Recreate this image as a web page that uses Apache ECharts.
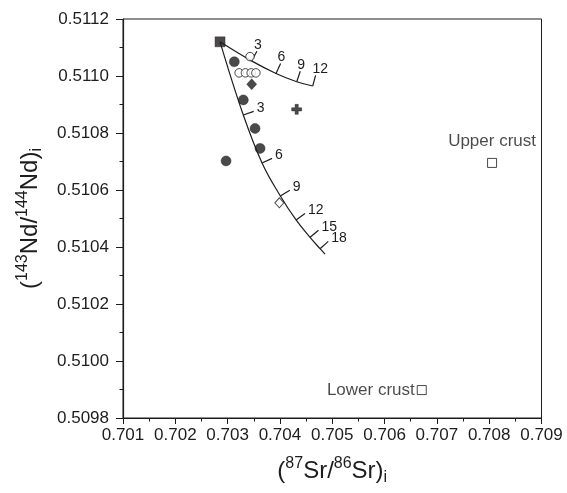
<!DOCTYPE html>
<html>
<head>
<meta charset="utf-8">
<script src="https://cdn.jsdelivr.net/npm/echarts@6/dist/echarts.min.js"></script>
<style>
  html, body { margin: 0; padding: 0; background: #fff; }
  #chart { width: 567px; height: 493px; }
</style>
</head>
<body>
<div id="chart"></div>
<script>
// Axis tick labels
const srTickLabels = ['0.701', '0.702', '0.703', '0.704', '0.705', '0.706', '0.707', '0.708', '0.709'];
const ndTickLabels = ['0.5098', '0.5100', '0.5102', '0.5104', '0.5106', '0.5108', '0.5110', '0.5112'];
const SR_STEP = 0.001;
const ND_STEP = 0.0002;

// Samples: [(87Sr/86Sr)i, (143Nd/144Nd)i]
const mantleEndMember = [[0.702855, 0.51112]];
const filledCircles = [
  [0.703128, 0.51105],
  [0.70330, 0.510916],
  [0.703524, 0.510816],
  [0.70362, 0.510746],
  [0.70297, 0.510702]
];
const openCircles = [
  [0.703428, 0.511068],
  [0.70322, 0.511011],
  [0.70334, 0.511011],
  [0.70345, 0.511011],
  [0.70354, 0.511011]
];
const filledDiamonds = [[0.70346, 0.510971]];
const openDiamonds = [[0.703989, 0.510555]];
const crossPoints = [[0.70432, 0.510883]];
const upperCrust = [[0.708055, 0.510695]];
const lowerCrust = [[0.706711, 0.509898]];

// Mixing curves with % contamination ticks
const upperCurveSr = [0.702855, 0.703457, 0.703925, 0.704321, 0.704627];
const upperCurveNd = [0.51112, 0.511053, 0.511009, 0.51098, 0.510965];
const upperCurveTicks = ['', '3', '6', '9', '12'];

const lowerCurveSr = [0.702855, 0.7033, 0.703658, 0.704008, 0.704308, 0.704576, 0.704767, 0.704862];
const lowerCurveNd = [0.51112, 0.510863, 0.510695, 0.510579, 0.510495, 0.510434, 0.510394, 0.510375];
const lowerCurveTicks = ['', '3', '6', '9', '12', '15', '18', ''];

const INK = '#1f1c1d';
const FONT = "'Liberation Sans', Arial, sans-serif";

function zip(a, b) { return a.map((v, i) => [v, b[i]]); }

function curveSeries(sr, nd) {
  return {
    type: 'line',
    data: zip(sr, nd),
    smooth: 0.4,
    symbol: 'none',
    silent: true,
    z: 2,
    lineStyle: { color: INK, width: 1.2 }
  };
}

// Short ticks normal to the curve, with their percentage labels
function tickSeries(sr, nd, labels, labelMode) {
  const data = [];
  labels.forEach((lab, i) => { if (lab) data.push([sr[i], nd[i], i]); });
  const last = sr.length - 1;
  return {
    type: 'custom',
    coordinateSystem: 'cartesian2d',
    data: data,
    silent: true,
    z: 3,
    renderItem: function (params, api) {
      const i = api.value(2);
      const p = api.coord([api.value(0), api.value(1)]);
      const a = api.coord([sr[Math.max(i - 1, 0)], nd[Math.max(i - 1, 0)]]);
      const b = api.coord([sr[Math.min(i + 1, last)], nd[Math.min(i + 1, last)]]);
      let dx = b[0] - a[0], dy = b[1] - a[1];
      const len = Math.hypot(dx, dy) || 1;
      dx /= len; dy /= len;
      const nx = dy, ny = -dx;
      const L = 11;
      const e = [p[0] + nx * L, p[1] + ny * L];
      const text = labelMode === 'above'
        ? { x: e[0] - 3, y: e[1] + 1, align: 'left', verticalAlign: 'bottom' }
        : { x: e[0] + 3, y: e[1] - 3, align: 'left', verticalAlign: 'middle' };
      return {
        type: 'group',
        children: [
          {
            type: 'line',
            shape: { x1: p[0], y1: p[1], x2: e[0], y2: e[1] },
            style: { stroke: INK, lineWidth: 1.2 }
          },
          {
            type: 'text',
            x: text.x,
            y: text.y,
            style: {
              text: labels[i],
              fill: INK,
              font: '14px ' + FONT,
              align: text.align,
              verticalAlign: text.verticalAlign
            }
          }
        ]
      };
    }
  };
}

function scatter(data, symbol, size, filled, extra) {
  return Object.assign({
    type: 'scatter',
    data: data,
    symbol: symbol,
    symbolSize: size,
    z: 5,
    itemStyle: filled
      ? { color: INK, borderColor: INK, borderWidth: 0.5 }
      : { color: '#fff', borderColor: INK, borderWidth: 1 }
  }, extra || {});
}

const nameRich = {
  a: { fontSize: 24, lineHeight: 30, fontFamily: FONT, color: INK },
  sup: { fontSize: 16, lineHeight: 18, verticalAlign: 'top', fontFamily: FONT, color: INK },
  sub: { fontSize: 16, lineHeight: 18, verticalAlign: 'bottom', fontFamily: FONT, color: INK }
};

const srMin = Number(srTickLabels[0]);
const srMax = Number(srTickLabels[srTickLabels.length - 1]);
const ndMin = Number(ndTickLabels[0]);
const ndMax = Number(ndTickLabels[ndTickLabels.length - 1]);

const chart = echarts.init(document.getElementById('chart'), null, { renderer: 'canvas' });

chart.setOption({
  backgroundColor: '#fff',
  animation: false,
  grid: {
    left: 123, right: 25.5, top: 19, bottom: 75,
    show: true, borderColor: INK, borderWidth: 1, backgroundColor: 'transparent'
  },
  xAxis: {
    type: 'value',
    min: srMin, max: srMax, interval: SR_STEP,
    name: '{a|(}{sup|87}{a|Sr/}{sup|86}{a|Sr)}{sub|i}',
    nameLocation: 'middle',
    nameGap: 38,
    nameTextStyle: { rich: nameRich },
    axisLine: { show: true, onZero: false, lineStyle: { color: INK, width: 1.2 } },
    axisTick: { show: true, inside: false, length: 6, lineStyle: { color: INK, width: 1 } },
    minorTick: { show: true, splitNumber: 2, length: 3.5, lineStyle: { color: INK, width: 1 } },
    splitLine: { show: false },
    minorSplitLine: { show: false },
    axisLabel: {
      fontSize: 17, color: INK, fontFamily: FONT, margin: 9,
      formatter: v => srTickLabels[Math.round((v - srMin) / SR_STEP)]
    }
  },
  yAxis: {
    type: 'value',
    min: ndMin, max: ndMax, interval: ND_STEP,
    name: '{a|(}{sup|143}{a|Nd/}{sup|144}{a|Nd)}{sub|i}',
    nameLocation: 'middle',
    nameGap: 78,
    nameTextStyle: { rich: nameRich },
    axisLine: { show: true, onZero: false, lineStyle: { color: INK, width: 1.2 } },
    axisTick: { show: true, inside: false, length: 7, lineStyle: { color: INK, width: 1 } },
    minorTick: { show: true, splitNumber: 2, length: 3.5, lineStyle: { color: INK, width: 1 } },
    splitLine: { show: false },
    minorSplitLine: { show: false },
    axisLabel: {
      fontSize: 17, color: INK, fontFamily: FONT, margin: 14,
      formatter: v => ndTickLabels[Math.round((v - ndMin) / ND_STEP)]
    }
  },
  series: [
    curveSeries(upperCurveSr, upperCurveNd),
    curveSeries(lowerCurveSr, lowerCurveNd),
    tickSeries(upperCurveSr, upperCurveNd, upperCurveTicks, 'above'),
    tickSeries(lowerCurveSr, lowerCurveNd, lowerCurveTicks, 'right'),
    scatter(filledCircles, 'circle', 10, true),
    scatter(openCircles, 'circle', 8.5, false),
    scatter(filledDiamonds, 'diamond', [10, 11], true),
    scatter(openDiamonds, 'diamond', [9, 10], false),
    scatter(crossPoints, 'path://M3.4,0H6.6V3.4H10V6.6H6.6V10H3.4V6.6H0V3.4H3.4Z', 10, true),
    scatter(mantleEndMember, 'rect', 10, true, { z: 6 }),
    scatter(upperCrust, 'rect', 9, false, {
      label: {
        show: true, position: 'top', distance: 8,
        formatter: 'Upper crust', fontSize: 17, color: INK, fontFamily: FONT
      }
    }),
    scatter(lowerCrust, 'rect', 9, false, {
      label: {
        show: true, position: 'left', distance: 2,
        formatter: 'Lower crust', fontSize: 17, color: INK, fontFamily: FONT
      }
    })
  ]
});
</script>
</body>
</html>
